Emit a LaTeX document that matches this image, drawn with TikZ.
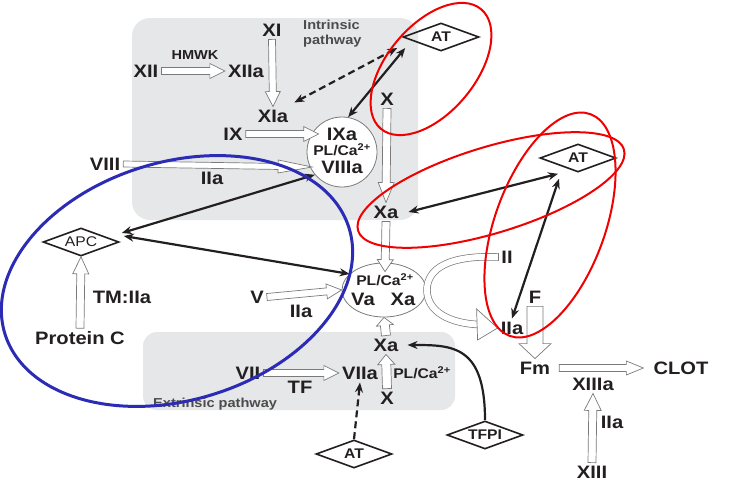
\documentclass[tikz,border=0pt]{standalone}
\usepackage{fontspec}
\setmainfont{Liberation Sans}[FakeStretch=1.12]
\usetikzlibrary{arrows.meta,calc,shapes.geometric}

\definecolor{ink}{HTML}{231F20}
\definecolor{boxgray}{HTML}{E6E7E8}
\definecolor{edgegray}{HTML}{7A7A7A}
\definecolor{ringred}{HTML}{F00000}
\definecolor{ringblue}{HTML}{2B2BB5}

\tikzset{
  lbl/.style={text=ink, font=\fontsize{18}{18}\selectfont\bfseries, inner sep=3pt},
  smalllbl/.style={text=ink, font=\fontsize{14}{14}\selectfont\bfseries, inner sep=2pt},
  pathlbl/.style={text=black!70, font=\fontsize{13}{15}\selectfont\bfseries, align=left, inner sep=0pt},
  serpin/.style={diamond, draw=ink, line width=1.6pt, aspect=2.6, inner sep=1pt,
    minimum width=76pt, minimum height=28pt, text=ink, font=\fontsize{14}{14}\selectfont\bfseries},
  complex/.style={draw=edgegray, fill=white, line width=0.8pt},
  hollow/.style={draw=edgegray, line width=0.7pt, fill=white},
  blk/.style={draw=ink, line width=2.2pt},
  blkdash/.style={blk, dash pattern=on 7pt off 4pt},
  redring/.style={draw=ringred, line width=2pt},
  bluering/.style={draw=ringblue, line width=3pt}
}

% hollow arrow: [shaft half width/head length/head half width]{from}{to}
\newcommand{\harrow}[3][3.5/15/7.5]{%
  \foreach \sw/\hl/\hw in {#1}{%
    \path (#2) coordinate (ha) (#3) coordinate (hb);
    \path ($(hb)!\hl pt!(ha)$) coordinate (hc);
    \draw[hollow] ($(ha)!\sw pt!90:(hb)$) -- ($(hc)!\sw pt!-90:(ha)$) -- ($(hc)!\hw pt!-90:(ha)$)
      -- (hb) -- ($(hc)!\hw pt!90:(ha)$) -- ($(hc)!\sw pt!90:(ha)$) -- ($(ha)!\sw pt!-90:(hb)$) -- cycle;
  }}

\begin{document}
\begin{tikzpicture}[x=1pt,y=-1pt,>={Stealth[length=10pt,width=8pt]}]
  \useasboundingbox (0,0) rectangle (734,496);
  % pathway boxes
  \fill[boxgray, rounded corners=18pt] (132,18) rectangle (418,220);
  \fill[boxgray, rounded corners=14pt] (143,332) rectangle (455,410);
  \node[pathlbl, anchor=west] (intr) at (303,34) {Intrinsic\\pathway};
  \node[pathlbl, anchor=west] (extr) at (153,404) {Extrinsic pathway};

  % intrinsic pathway
  \node[lbl] (xi) at (272,30) {XI};
  \node[lbl] (xii) at (146,71) {XII};
  \node[lbl] (xiia) at (246,71) {XIIa};
  \node[smalllbl, font=\fontsize{13}{13}\selectfont\bfseries] (hmwk) at (195,55) {HMWK};
  \node[lbl] (xia) at (273,116) {XIa};
  \node[lbl] (ix) at (233,134) {IX};
  \node[lbl] (viii) at (105,164) {VIII};
  \node[lbl] (iia1) at (212,178) {IIa};
  \node[complex, circle, minimum size=70pt] (tenase) at (342,152) {};
  \node[lbl] (ixa) at (342,134) {IXa};
  \node[smalllbl] (pl1) at (342,150) {PL/Ca\textsuperscript{2+}};
  \node[lbl] (viiia) at (342,167) {VIIIa};
  \node[lbl] (x1) at (387,99) {X};
  \node[lbl] (xa1) at (386,212) {Xa};
  \node[serpin] (at1) at (441,37) {AT};
  \node[serpin] (at2) at (578,158) {AT};

  % common pathway
  \node[complex, ellipse, minimum width=84pt, minimum height=54pt] (prothr) at (384,290) {};
  \node[smalllbl] (pl2) at (385,280) {PL/Ca\textsuperscript{2+}};
  \node[lbl] (va) at (363,299) {Va};
  \node[lbl] (xa2) at (403,299) {Xa};
  \node[lbl] (v) at (257,297) {V};
  \node[lbl] (iia2) at (301,311) {IIa};
  \node[lbl] (ii) at (507,257) {II};
  \node[lbl] (iia3) at (512,328) {IIa};
  \node[lbl] (f) at (535,297) {F};
  \node[lbl] (fm) at (535,368) {Fm};
  \node[lbl] (clot) at (681,368) {CLOT};
  \node[lbl] (xiiia) at (593,384) {XIIIa};
  \node[lbl] (xiii) at (592,472) {XIII};
  \node[lbl] (iia4) at (612,422) {IIa};

  % protein C
  \node[serpin, font=\fontsize{14}{14}\selectfont] (apc) at (81,242) {APC};
  \node[lbl] (tmiia) at (122,297) {TM:IIa};
  \node[lbl] (protc) at (80,338) {Protein C};

  % extrinsic pathway
  \node[lbl] (vii) at (248,373) {VII};
  \node[lbl] (tf) at (300,387) {TF};
  \node[lbl] (viia) at (360,373) {VIIa};
  \node[lbl] (xab) at (386,345) {Xa};
  \node[lbl] (xb) at (387,398) {X};
  \node[smalllbl] (pl3) at (422,373) {PL/Ca\textsuperscript{2+}};
  \node[serpin] (tfpi) at (485,435) {TFPI};
  \node[serpin] (at3) at (354,454) {AT};

  % activations
  \harrow{xii.east}{xiia.west}
  \harrow{xi.south}{xia.north}
  \harrow{ix.east}{[xshift=-5pt]ixa.west}
  \harrow[3/34/6.5]{viii.east}{[xshift=-6pt]viiia.west}
  \harrow[4/20/8]{x1.south}{xa1.north}
  \harrow[4/12/8]{xa1.south}{pl2.north}
  \harrow{v.east}{prothr.west}
  \harrow[4/17/8]{protc.north}{apc.south}
  \harrow{vii.east}{viia.west}
  \harrow[4.5/8/8.5]{xab.north}{prothr.south}
  \harrow[4.5/10/8.5]{xb.north}{xab.south}
  \harrow[8/15/16]{f.south}{fm.north}
  \harrow[3.5/17/7]{[xshift=6pt]fm.east}{[xshift=-7pt]clot.west}
  \harrow[4/17/8.5]{xiii.north}{xiiia.south}

  % II to IIa
  \coordinate (iibase) at ($(iia3.west)+(-20,-3.5)$);
  \draw[edgegray, line width=0.7pt, double=white, double distance=6pt] (ii.west)
    .. controls (450,255) and (427,268) .. (427,290) .. controls (427,312) and (450,323) .. (iibase);
  \draw[edgegray, line width=0.7pt] ($(ii.west)+(0,-3.7)$) -- ($(ii.west)+(0,3.7)$);
  \draw[hollow] ($(iia3.west)+(-21,-19)$) -- (iia3.west) -- ($(iia3.west)+(-20,12)$) -- cycle;

  % inhibitors
  \draw[blkdash, <->] ([xshift=3pt,yshift=4pt]xia.north east) -- ([xshift=-5pt,yshift=-11pt]at1.west);
  \draw[blk, <->] (tenase.80) -- ([xshift=3pt,yshift=-11pt]at1.west);
  \draw[blk, <->] ([xshift=7pt]xa1.east) -- ([xshift=-20pt,yshift=-1pt]at2.south);
  \draw[blk, <->] (iia3.north) -- ([xshift=-19pt,yshift=-6pt]at2.south);
  \draw[blk, <->] ([shift={(2pt,9pt)}]apc.east) -- (tenase.220);
  \draw[blk, <->] ([shift={(4pt,6pt)}]apc.east) -- (prothr.155);
  \draw[blk, ->] (tfpi.north) .. controls +(0,-75) and +(45,0) .. ([xshift=6pt]xab.east);
  \draw[blkdash, ->] (at3.north) -- (viia.south);

  % rings
  \draw[bluering, rotate around={17:(177,281)}] (177,281) ellipse [x radius=180, y radius=119];
  \draw[redring, rotate around={50:(431,69)}] (431,69) ellipse [x radius=78, y radius=44];
  \draw[redring, rotate around={17:(491,190)}] (491,190) ellipse [x radius=139, y radius=43];
  \draw[redring, rotate around={70:(550,225)}] (550,225) ellipse [x radius=118, y radius=55];
\end{tikzpicture}
\end{document}
